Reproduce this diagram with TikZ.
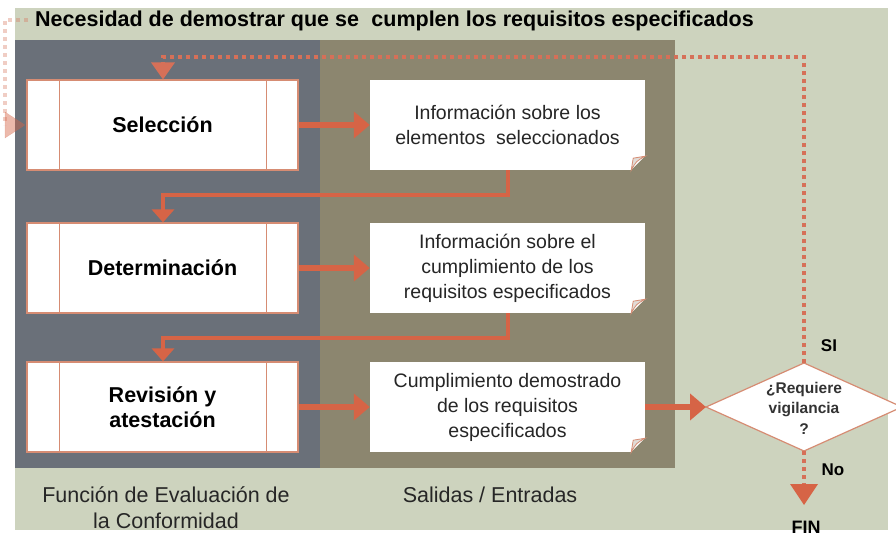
\documentclass[tikz,border=0pt]{standalone}
\usepackage{fontspec}
\setmainfont{Liberation Sans}
\usetikzlibrary{shapes.geometric,arrows.meta,calc}
\definecolor{bgpale}{RGB}{205,211,190}
\definecolor{panelgray}{RGB}{106,112,121}
\definecolor{panelolive}{RGB}{140,134,111}
\definecolor{orng}{RGB}{214,100,70}
\definecolor{dotorng}{RGB}{214,112,88}
\definecolor{boxline}{RGB}{214,140,115}
\definecolor{foldgray}{RGB}{225,220,215}
\tikzset{
  procbox/.style={draw=boxline, line width=1.2pt, fill=white, minimum width=271pt, minimum height=90pt, inner sep=0pt, align=center, font=\fontsize{21.5}{25}\selectfont\bfseries},
  docbox/.style={fill=white, minimum width=275pt, minimum height=90pt, inner sep=0pt, align=center, font=\fontsize{19.5}{25}\selectfont, text=black!85},
  bigarrow/.style={orng, line width=6pt, -{Triangle[length=16pt,width=26pt]}},
  retarrow/.style={orng, line width=4pt, -{Triangle[length=13pt,width=22pt]}},
  dotline/.style={dotorng, line width=4pt, dash pattern=on 4pt off 4pt},
  lbl/.style={font=\fontsize{17}{18}\selectfont\bfseries, inner sep=0pt},
  captext/.style={font=\fontsize{21.5}{26}\selectfont, align=center, inner sep=0pt, text=black!85}
}
\begin{document}
\begin{tikzpicture}[x=1pt,y=-1pt]
\useasboundingbox (0,0) rectangle (896,538);
\fill[white] (0,0) rectangle (896,538);
\fill[bgpale] (15,8) rectangle (888,530);
% panels
\fill[panelgray] (15,40) rectangle (320,468);
\fill[panelolive] (320,40) rectangle (675,468);
% title
\node[anchor=west, font=\fontsize{21.5}{24}\selectfont\bfseries, inner sep=0pt] (title) at (35,21) {Necesidad de demostrar que se\hspace{0.3em} cumplen los requisitos especificados};
% left faint feedback
\coordinate (lt) at (28,20);
\coordinate (lc1) at (5,20);
\coordinate (lc2) at (5,125);
\draw[dotline, opacity=0.35] (lt) -- (lc1) -- (lc2);
% process boxes
\node[procbox] (sel) at (162.5,125) {Selección};
\node[procbox] (det) at (162.5,268) {Determinación};
\node[procbox] (rev) at (162.5,407) {Revisión y\\atestación};
\foreach \n in {sel,det,rev}{
  \draw[boxline, line width=1.2pt] ([xshift=33pt]\n.north west) -- ([xshift=33pt]\n.south west);
  \draw[boxline, line width=1.2pt] ([xshift=-32pt]\n.north east) -- ([xshift=-32pt]\n.south east);
}
\draw[orng, opacity=0.45, line width=0.1pt, fill=orng, fill opacity=0.45] (5,112) -- (25,125) -- (5,138) -- cycle;
% document boxes
\node[docbox] (o1) at (507.5,125) {Información sobre los\\elementos\ \ seleccionados};
\node[docbox] (o2) at (507.5,268) {Información sobre el\\cumplimiento de los\\requisitos especificados};
\node[docbox] (o3) at (507.5,407) {Cumplimiento demostrado\\de los requisitos\\especificados};
\foreach \n in {o1,o2,o3}{
  \fill[panelolive] ([yshift=14pt]\n.south east) -- (\n.south east) -- ([xshift=-14pt]\n.south east) -- cycle;
  \fill[foldgray, draw=boxline, line width=0.8pt] ([yshift=14pt]\n.south east) .. controls ([xshift=-9pt,yshift=9pt]\n.south east) .. ([xshift=-14pt]\n.south east) -- ([xshift=-12pt,yshift=12pt]\n.south east) -- cycle;
}
% horizontal arrows
\draw[bigarrow] (sel.east) -- (o1.west);
\draw[bigarrow] (det.east) -- (o2.west);
\draw[bigarrow] (rev.east) -- (o3.west);
% return arrows
\coordinate (r1a) at (508,195);
\coordinate (r1b) at (163,195);
\draw[retarrow] (o1.south -| r1a) -- (r1a) -- (r1b) -- (det.north -| r1b);
\coordinate (r2a) at (508,338);
\coordinate (r2b) at (163,338);
\draw[retarrow] (o2.south -| r2a) -- (r2a) -- (r2b) -- (rev.north -| r2b);
% decision
\coordinate (decn) at (804,363);
\coordinate (decs) at (804,451);
\coordinate (decw) at (706,407);
\coordinate (dece) at (902,407);
\draw[boxline, line width=1.2pt, fill=white] (decn) -- (dece) -- (decs) -- (decw) -- cycle;
\node[inner sep=0pt, align=center, font=\fontsize{15.5}{20.5}\selectfont\bfseries, text=black!80] (dec) at (804,408) {¿Requiere\\vigilancia\\?};
\draw[bigarrow] (o3.east) -- (decw);
% top dotted feedback
\coordinate (t1) at (804,57);
\coordinate (t2) at (163,57);
\draw[dotline] (decn) -- (t1) -- (t2) -- ([yshift=14pt]sel.north -| t2);
\fill[dotorng] ([xshift=-12pt,yshift=17pt]sel.north -| t2) -- ([xshift=12pt,yshift=17pt]sel.north -| t2) -- (sel.north -| t2) -- cycle;
% bottom
\coordinate (fa) at (804,484);
\coordinate (fend) at (804,505);
\draw[dotline] (decs) -- (fa);
\fill[orng] (790,484) -- (818,484) -- (fend) -- cycle;
\node[lbl] (si) at (829,346) {SI};
\node[lbl] (no) at (833,470) {No};
\node[font=\fontsize{18}{19}\selectfont\bfseries, inner sep=0pt] (fin) at (806,527) {FIN};
% captions
\node[captext] (c1) at (166,508) {Función de Evaluación de\\la Conformidad};
\node[captext] (c2) at (490,495) {Salidas / Entradas};
\end{tikzpicture}
\end{document}
